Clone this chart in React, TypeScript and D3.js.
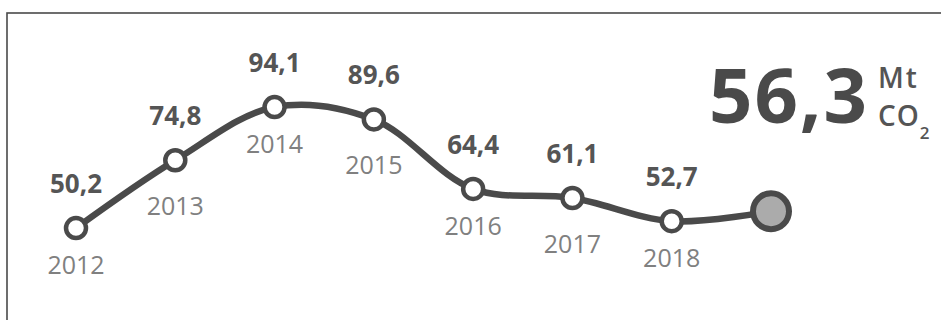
import React from "react";
import * as d3 from "d3";

const years = ["2012", "2013", "2014", "2015", "2016", "2017", "2018"];
const values = [50.2, 74.8, 94.1, 89.6, 64.4, 61.1, 52.7];
const currentKey = "2019";
const currentValue = 56.3;
const unitTop = "Mt";
const unitBottom = "CO";
const unitSub = "2";

const W = 941;
const H = 320;

const fmt = (v: number) => d3.format(".1f")(v).replace(".", ",");

export default function App() {
  const keys = [...years, currentKey];
  const x = d3.scalePoint<string>().domain(keys).range([76, 771]);
  const y = d3.scaleLinear().domain([0, 100]).range([366.4, 90.8]);

  const pts: [number, number][] = [
    ...years.map((yr, i) => [x(yr)!, y(values[i])] as [number, number]),
    [x(currentKey)!, y(currentValue)],
  ];
  const line = d3.line().curve(d3.curveCatmullRom.alpha(0.5));
  const path = line(pts) || "";

  const font = "'Open Sans', 'DejaVu Sans', sans-serif";

  return (
    <svg
      width={W}
      height={H}
      style={{ position: "absolute", left: 0, top: 0, background: "#fff" }}
    >
      <rect x={7} y={13} width={W} height={H} fill="none" stroke="#4a4a4a" strokeWidth={1.6} />
      <path d={path} fill="none" stroke="#4a4a4a" strokeWidth={6.5} strokeLinejoin="round" strokeLinecap="round" />
      {years.map((yr, i) => {
        const cx = x(yr)!;
        const cy = y(values[i]);
        // year labels alternate slightly lower / higher, as in the original layout
        const yearDy = i % 2 === 1 ? 55 : 46;
        return (
          <g key={yr}>
            <circle cx={cx} cy={cy} r={10} fill="#fff" stroke="#4a4a4a" strokeWidth={4.5} />
            <text x={cx} y={cy - 35} textAnchor="middle" fontFamily={font} fontWeight={700} fontSize={26} fill="#555">
              {fmt(values[i])}
            </text>
            <text x={cx} y={cy + yearDy} textAnchor="middle" fontFamily={font} fontSize={25} fill="#808080">
              {yr}
            </text>
          </g>
        );
      })}
      <circle cx={x(currentKey)!} cy={y(currentValue)} r={18} fill="#ababab" stroke="#4a4a4a" strokeWidth={6} />
      <text x={869} y={123} textAnchor="end" fontFamily={font} fontWeight={700} fontSize={76} fill="#4a4a4a" letterSpacing={2}>
        {fmt(currentValue)}
      </text>
      <text x={878} y={88} fontFamily={font} fontWeight={600} fontSize={28} fill="#555" letterSpacing={2}>
        {unitTop}
      </text>
      <text x={878} y={126} fontFamily={font} fontWeight={600} fontSize={28} fill="#555" letterSpacing={1}>
        {unitBottom}
        <tspan fontSize={17} dy={13}>{unitSub}</tspan>
      </text>
    </svg>
  );
}
